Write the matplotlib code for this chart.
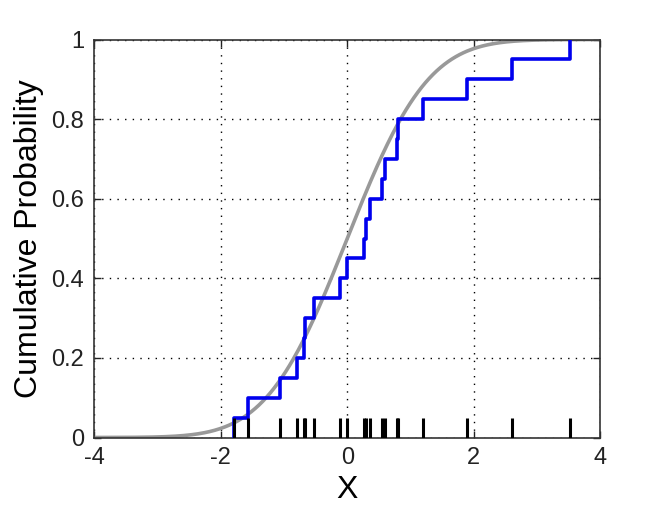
import numpy as np
import matplotlib
matplotlib.use("Agg")
import matplotlib.pyplot as plt
from math import erf, sqrt

plt.rcParams["font.family"] = ["Liberation Sans", "DejaVu Sans"]
plt.rcParams["axes.unicode_minus"] = False

samples = [-1.785, -1.574, -1.065, -0.80, -0.68, -0.66, -0.524, -0.11, -0.005,
           0.265, 0.29, 0.36, 0.555, 0.60, 0.78, 0.80, 1.20, 1.89, 2.61, 3.52]
x_ticks = [-4, -2, 0, 2, 4]
x_tick_labels = ["-4", "-2", "0", "2", "4"]
y_ticks = [0, 0.2, 0.4, 0.6, 0.8, 1]
y_tick_labels = ["0", "0.2", "0.4", "0.6", "0.8", "1"]

xs = np.sort(np.array(samples))
n = len(xs)
ecdf_x = np.repeat(xs, 2)
ecdf_y = np.empty(2 * n)
ecdf_y[0::2] = np.arange(n) / n
ecdf_y[1::2] = np.arange(1, n + 1) / n

grid_x = np.linspace(-4, 4, 400)
norm_cdf = np.array([0.5 * (1 + erf(v / sqrt(2))) for v in grid_x])

fig = plt.figure(figsize=(6.63, 5.12), dpi=100)
ax = fig.add_axes([94 / 663, 1 - 437.5 / 512, (600.5 - 94) / 663, (437.5 - 39.5) / 512])

ax.plot(grid_x, norm_cdf, color="#999999", linewidth=2.6, zorder=2)
ax.plot(ecdf_x, ecdf_y, color="#0000ee", linewidth=2.6, zorder=3)
ax.vlines(xs, 0, 0.05, color="black", linewidth=2.2, zorder=4)

ax.set_xlim(-4, 4)
ax.set_ylim(0, 1)
ax.set_xticks(x_ticks)
ax.set_xticklabels(x_tick_labels)
ax.set_yticks(y_ticks)
ax.set_yticklabels(y_tick_labels)
ax.tick_params(direction="in", length=5, width=1, labelsize=17, pad=7,
               top=True, right=True, colors="#222222")
ax.grid(True, linestyle=(0, (1, 4.5)), color="black", linewidth=1)
for s in ax.spines.values():
    s.set_color("#333333")
    s.set_linewidth(1.2)

ax.set_xlabel("X", fontsize=23, labelpad=4)
ax.set_ylabel("Cumulative Probability", fontsize=23, labelpad=5)

fig.savefig("out.png", dpi=100)
